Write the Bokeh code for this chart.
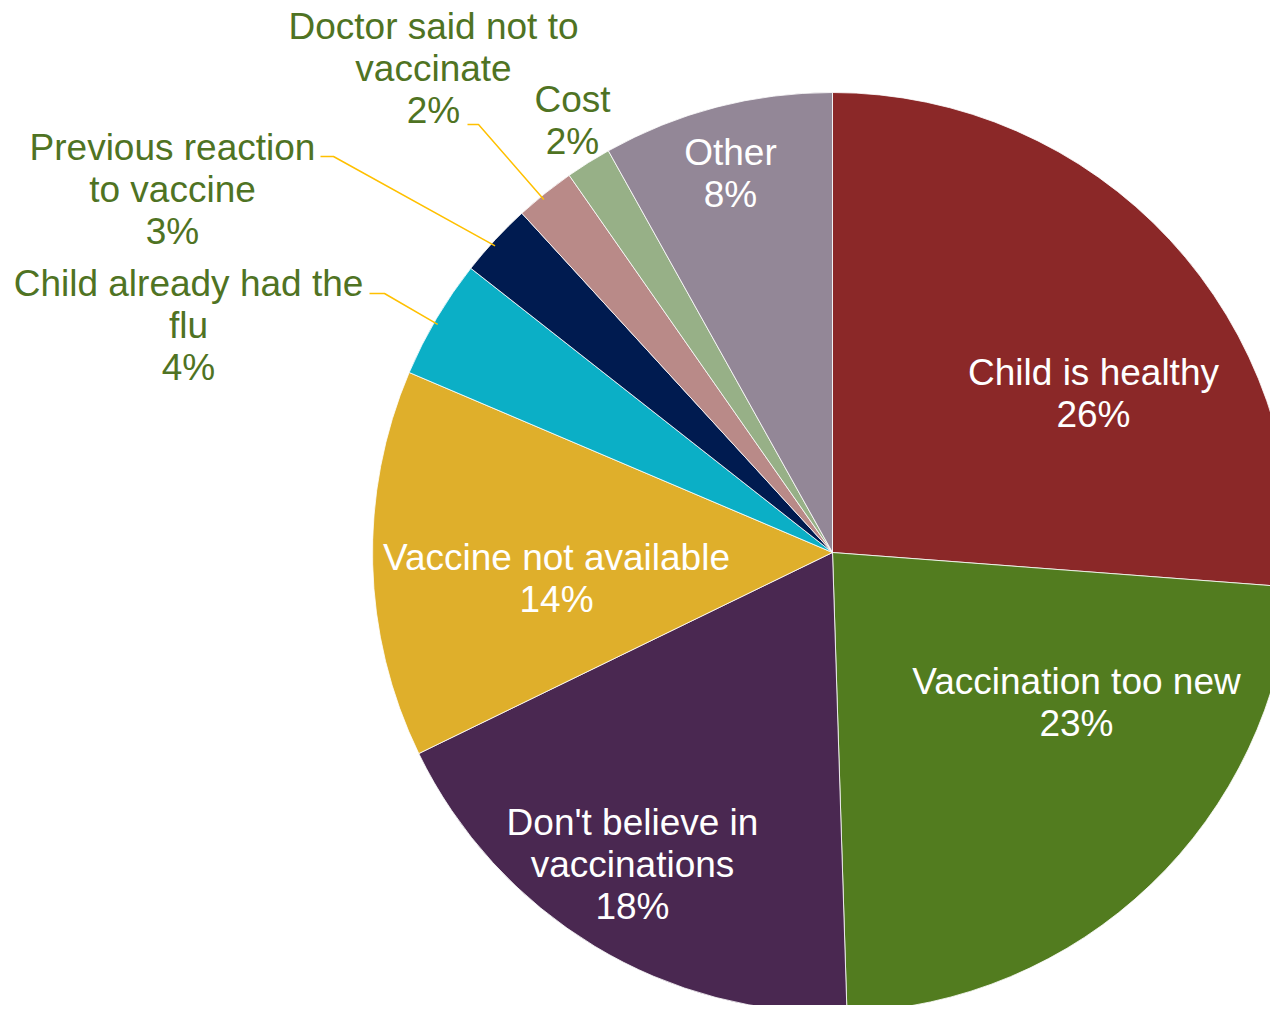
import numpy as np
from bokeh.plotting import figure
from bokeh.models import Range1d, ColumnDataSource
from bokeh.core.properties import value
from bokeh.embed import file_html
from bokeh.resources import INLINE

# ---- data ----
categories = ["Child is healthy", "Vaccination too new", "Don't believe in vaccinations",
              "Vaccine not available", "Child already had the flu", "Previous reaction to vaccine",
              "Doctor said not to vaccinate", "Cost", "Other"]
display_labels = ["Child is healthy", "Vaccination too new", "Don't believe in\nvaccinations",
                  "Vaccine not available", "Child already had the\nflu", "Previous reaction\nto vaccine",
                  "Doctor said not to\nvaccinate", "Cost", "Other"]
shares = [26.2, 23.3, 18.3, 13.6, 4.2, 2.6, 2.1, 1.6, 8.1]

# ---- styles / layout ----
colors = ["#8B2828", "#527C1F", "#4A2851", "#DFAF2B", "#0BAFC6", "#001B50", "#B98A88", "#97B087", "#938797"]
inside = [True, True, True, True, False, False, False, False, True]
label_pos = [(1093, 612), (1076, 303), (632, 141), (556, 427), (188, 680),
             (172, 816), (433, 937), (572, 885), (730, 832)]
elbows = {4: [(369, 712), (384, 712)], 5: [(320, 849), (333, 849)], 6: [(467, 881), (478, 881)]}

W, H = 1270, 1005
cx, cy, R = 832, 453, 460
FONT = "Liberation Sans"
FS = "37px"
OUT_COLOR = "#4F7323"
LEADER = "#FFC000"

vals = np.array(shares, dtype=float)
frac = vals / vals.sum()
cum = np.concatenate([[0], np.cumsum(frac)])
# clockwise from 12 o'clock -> math angles
a_start_cw = cum[:-1] * 2 * np.pi
a_end_cw = cum[1:] * 2 * np.pi
start_angle = np.pi / 2 - a_end_cw
end_angle = np.pi / 2 - a_start_cw
mid_cw = (a_start_cw + a_end_cw) / 2

p = figure(width=W, height=H, x_range=Range1d(0, W), y_range=Range1d(0, H),
           output_backend="svg", toolbar_location=None, min_border=0)
p.axis.visible = False
p.grid.visible = False
p.outline_line_color = None
p.background_fill_color = "white"
p.border_fill_color = "white"

src = ColumnDataSource(dict(start=start_angle, end=end_angle, color=colors, cat=categories))
p.wedge(x=cx, y=cy, radius=R, start_angle="start", end_angle="end", direction="anticlock",
        fill_color="color", line_color="white", line_width=0.8, source=src)

# leader lines
for i, pts in elbows.items():
    m = np.pi / 2 - mid_cw[i] + 0.01
    ex = cx + (R - 4) * np.cos(m)
    ey = cy + (R - 4) * np.sin(m)
    xs = [pts[0][0], pts[1][0], ex]
    ys = [pts[0][1], pts[1][1], ey]
    p.line(xs, ys, line_color=LEADER, line_width=1.5)

# labels
texts = [f"{lab}\n{round(v):.0f}%" for lab, v in zip(display_labels, vals)]
for i, t in enumerate(texts):
    x, y = label_pos[i]
    p.text(x=[x], y=[y], text=[t], text_font=value(FONT), text_font_size=FS,
           text_color="white" if inside[i] else OUT_COLOR,
           text_align="center", text_baseline="middle", text_line_height=1.03)

open("out.html", "w").write(file_html(p, INLINE))
